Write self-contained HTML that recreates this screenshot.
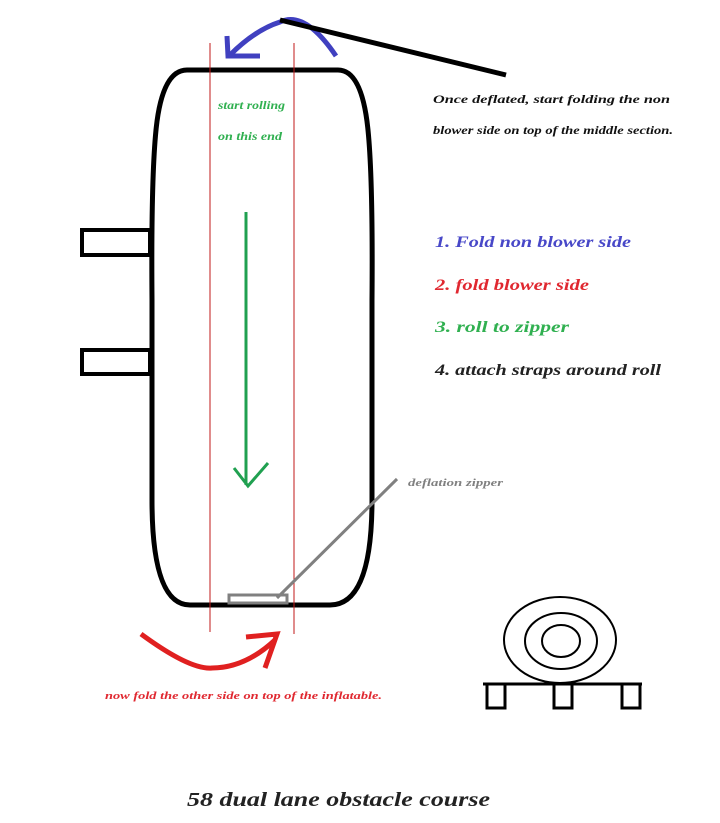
<!DOCTYPE html>
<html><head><style>
body{margin:0;background:#fff}
svg text{font-family:"Liberation Serif",serif;font-weight:bold;font-style:italic}
</style></head><body>
<svg width="720" height="818" viewBox="0 0 720 818" xmlns="http://www.w3.org/2000/svg">
<rect width="720" height="818" fill="#fff"/>
<path d="M187 70 L338 70 Q362 70 368 130 Q373 180 372 300 L372 500 Q372 605 330 605 L190 605 Q152 605 152 500 L152 300 Q151 180 156 130 Q162 70 187 70 Z" fill="none" stroke="#000" stroke-width="5"/>
<rect x="82" y="230" width="68" height="25" fill="none" stroke="#000" stroke-width="4"/>
<rect x="82" y="350" width="68" height="24" fill="none" stroke="#000" stroke-width="4"/>
<line x1="210" y1="43" x2="210" y2="632" stroke="#c01818" stroke-width="1"/>
<line x1="294" y1="43" x2="294" y2="634" stroke="#c01818" stroke-width="1"/>
<path d="M336 56 Q305 10 280 22 Q255 30 230 55" fill="none" stroke="#4040c0" stroke-width="5"/>
<path d="M227 36 L228 56 L260 56" fill="none" stroke="#4040c0" stroke-width="5"/>
<line x1="280" y1="20" x2="506" y2="75" stroke="#000" stroke-width="5"/>
<line x1="246" y1="212" x2="246" y2="485" stroke="#20a050" stroke-width="3"/>
<path d="M234 468 L248 486 L268 463" fill="none" stroke="#20a050" stroke-width="3"/>
<rect x="229" y="595" width="58" height="8" fill="none" stroke="#808080" stroke-width="3"/>
<line x1="277" y1="598" x2="397" y2="479" stroke="#808080" stroke-width="3"/>
<path d="M141 634 Q190 670 212 668 Q245 668 275 640" fill="none" stroke="#e02020" stroke-width="5"/>
<path d="M246 637 L277 634 L265 668" fill="none" stroke="#e02020" stroke-width="5"/>
<ellipse cx="560" cy="640" rx="56" ry="43" fill="none" stroke="#000" stroke-width="2"/>
<ellipse cx="561" cy="641" rx="36" ry="28" fill="none" stroke="#000" stroke-width="2"/>
<ellipse cx="561" cy="641" rx="19" ry="16" fill="none" stroke="#000" stroke-width="2"/>
<line x1="483" y1="684" x2="642" y2="684" stroke="#000" stroke-width="3"/>
<rect x="487" y="684" width="18" height="24" fill="none" stroke="#000" stroke-width="3"/>
<rect x="554" y="684" width="18" height="24" fill="none" stroke="#000" stroke-width="3"/>
<rect x="622" y="684" width="18" height="24" fill="none" stroke="#000" stroke-width="3"/>
<text x="218" y="109" font-size="12" fill="#30b050" textLength="67" lengthAdjust="spacingAndGlyphs">start rolling</text>
<text x="218" y="140" font-size="12" fill="#30b050" textLength="64" lengthAdjust="spacingAndGlyphs">on this end</text>
<text x="433" y="103" font-size="12" fill="#111" textLength="237" lengthAdjust="spacingAndGlyphs">Once deflated, start folding the non</text>
<text x="433" y="134" font-size="12" fill="#111" textLength="240" lengthAdjust="spacingAndGlyphs">blower side on top of the middle section.</text>
<text x="435" y="247" font-size="16" fill="#4848c8" textLength="196" lengthAdjust="spacingAndGlyphs">1. Fold  non blower side</text>
<text x="435" y="290" font-size="16" fill="#e02830" textLength="154" lengthAdjust="spacingAndGlyphs">2. fold blower side</text>
<text x="435" y="332" font-size="16" fill="#30b050" textLength="134" lengthAdjust="spacingAndGlyphs">3. roll  to zipper</text>
<text x="435" y="375" font-size="16" fill="#222" textLength="226" lengthAdjust="spacingAndGlyphs">4. attach straps around roll</text>
<text x="408" y="486" font-size="11" fill="#808080" textLength="95" lengthAdjust="spacingAndGlyphs">deflation zipper</text>
<text x="105" y="699" font-size="11" fill="#e02830" textLength="277" lengthAdjust="spacingAndGlyphs">now fold the other side on top of the inflatable.</text>
<text x="187" y="806" font-size="20" fill="#222" textLength="303" lengthAdjust="spacingAndGlyphs">58 dual lane obstacle course</text>
</svg>
</body></html>
